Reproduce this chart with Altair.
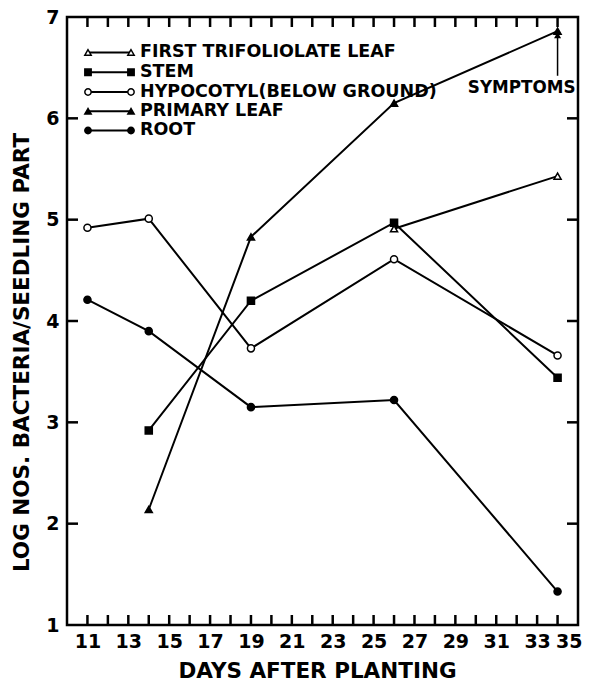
import altair as alt
import pandas as pd

# ---- data ----
series_names = ["FIRST TRIFOLIOLATE LEAF", "STEM", "HYPOCOTYL(BELOW GROUND)", "PRIMARY LEAF", "ROOT"]
series_shapes = ["triangle-up", "square", "circle", "triangle-up", "circle"]
series_fills = ["white", "black", "white", "black", "black"]

tri_days = [26, 34]
tri_vals = [4.91, 5.43]
stem_days = [14, 19, 26, 34]
stem_vals = [2.92, 4.20, 4.97, 3.44]
hyp_days = [11, 14, 19, 26, 34]
hyp_vals = [4.92, 5.01, 3.73, 4.61, 3.66]
prim_days = [14, 19, 26, 34]
prim_vals = [2.14, 4.83, 6.15, 6.86]
root_days = [11, 14, 19, 26, 34]
root_vals = [4.21, 3.90, 3.15, 3.22, 1.33]

x_tick_labels = [11, 13, 15, 17, 19, 21, 23, 25, 27, 29, 31, 33, 35]
x_minor_ticks = list(range(11, 35))
y_tick_labels = [1, 2, 3, 4, 5, 6, 7]
y_inner_ticks = [2, 3, 4, 5, 6]

legend_y = [6.65, 6.455, 6.26, 6.07, 5.88]

symptom_day = [34]
symptom_label = ["SYMPTOMS"]
symptom_text_y = [6.30]
symptom_arrow_lo = [6.42]
symptom_arrow_hi = [6.82]

# ---- tables ----
rows = []
for name, days, vals in zip(series_names,
                            [tri_days, stem_days, hyp_days, prim_days, root_days],
                            [tri_vals, stem_vals, hyp_vals, prim_vals, root_vals]):
    for d, v in zip(days, vals):
        rows.append({"series": name, "day": d, "value": v})
df = pd.DataFrame(rows)
leg = pd.DataFrame({"series": series_names, "ly": legend_y})
xt = pd.DataFrame({"day": x_minor_ticks})
yt = pd.DataFrame({"v": y_inner_ticks})
sym = pd.DataFrame({"day": symptom_day, "label": symptom_label, "ty": symptom_text_y,
                    "lo": symptom_arrow_lo, "hi": symptom_arrow_hi})

W, H = 511, 608
FONT = "DejaVu Sans"

xs = alt.Scale(domain=[10, 35], nice=False, zero=False)
ys = alt.Scale(domain=[1, 7], nice=False, zero=False)
shape_scale = alt.Scale(domain=series_names, range=series_shapes)
fill_scale = alt.Scale(domain=series_names, range=series_fills)

AX = alt.Axis(values=x_tick_labels, title="DAYS AFTER PLANTING", ticks=False, tickSize=0,
              domain=False, grid=False, labelPadding=7, titlePadding=9, format="d",
              labelFlush=1, labelFlushOffset=4, labelFontSize=19, titleFontSize=21.5,
              titleX=250, titleAlign="center")
AY = alt.Axis(values=y_tick_labels, title="LOG NOS. BACTERIA/SEEDLING PART", ticks=False, tickSize=0,
              domain=False, grid=False, labelPadding=8, format="d", labelFontSize=19,
              titleFontSize=21.5, titleX=-45, titleY=335, titleBaseline="middle", titleAlign="center")


def X(f):
    return alt.X(f, scale=xs, axis=AX)


def Y(f):
    return alt.Y(f, scale=ys, axis=AY)


lines = alt.Chart(df).mark_line(color="black", strokeWidth=2).encode(
    x=X("day:Q"), y=Y("value:Q"), detail="series:N")

points = alt.Chart(df).mark_point(filled=True, stroke="black", strokeWidth=1.5, size=50, opacity=1).encode(
    x=X("day:Q"), y=Y("value:Q"),
    shape=alt.Shape("series:N", scale=shape_scale, legend=None),
    fill=alt.Fill("series:N", scale=fill_scale, legend=None),
)

tick_bottom = alt.Chart(xt).mark_rule(color="black", strokeWidth=2.5).encode(
    x=X("day:Q"), y=alt.value(H), y2=alt.value(H - 10))
tick_top = alt.Chart(xt).mark_rule(color="black", strokeWidth=2.5).encode(
    x=X("day:Q"), y=alt.value(0), y2=alt.value(10))
tick_left = alt.Chart(yt).mark_rule(color="black", strokeWidth=2.5).encode(
    y=Y("v:Q"), x=alt.value(0), x2=alt.value(11))
tick_right = alt.Chart(yt).mark_rule(color="black", strokeWidth=2.5).encode(
    y=Y("v:Q"), x=alt.value(W), x2=alt.value(W - 11))

leg_line = alt.Chart(leg).mark_rule(color="black", strokeWidth=2).encode(
    y=Y("ly:Q"), x=alt.value(21), x2=alt.value(64))
leg_p1 = alt.Chart(leg).mark_point(filled=True, stroke="black", strokeWidth=1.5, size=40, opacity=1).encode(
    y=Y("ly:Q"), x=alt.value(21),
    shape=alt.Shape("series:N", scale=shape_scale, legend=None),
    fill=alt.Fill("series:N", scale=fill_scale, legend=None))
leg_p2 = alt.Chart(leg).mark_point(filled=True, stroke="black", strokeWidth=1.5, size=40, opacity=1).encode(
    y=Y("ly:Q"), x=alt.value(64),
    shape=alt.Shape("series:N", scale=shape_scale, legend=None),
    fill=alt.Fill("series:N", scale=fill_scale, legend=None))
leg_text = alt.Chart(leg).mark_text(align="left", baseline="middle", font=FONT, fontWeight="bold",
                                    fontSize=17.5, color="black").encode(
    y=Y("ly:Q"), x=alt.value(73), text="series:N")

sym_text = alt.Chart(sym).mark_text(align="right", baseline="middle", font=FONT, fontWeight="bold",
                                    fontSize=16.8, color="black", dx=18).encode(
    x=X("day:Q"), y=Y("ty:Q"), text="label:N")
sym_shaft = alt.Chart(sym).mark_rule(color="black", strokeWidth=1.5).encode(
    x=X("day:Q"), y=Y("lo:Q"), y2="hi:Q")
sym_head = alt.Chart(sym).mark_point(shape="triangle-up", filled=True, color="black", size=50, opacity=1).encode(
    x=X("day:Q"), y=Y("hi:Q"))

chart = alt.layer(
    lines, points, tick_bottom, tick_top, tick_left, tick_right,
    leg_line, leg_p1, leg_p2, leg_text, sym_shaft, sym_head, sym_text
).properties(
    width=W, height=H,
    autosize=alt.AutoSizeParams(type="none"),
    padding={"left": 59, "top": 9, "right": 5, "bottom": 56},
).configure_view(
    stroke="black", strokeWidth=2.5
).configure_axis(
    labelFont=FONT, labelFontWeight="bold", labelColor="black",
    titleFont=FONT, titleFontWeight="bold", titleColor="black",
)

chart.save("out.html", embed_options={"renderer": "svg", "actions": False})
